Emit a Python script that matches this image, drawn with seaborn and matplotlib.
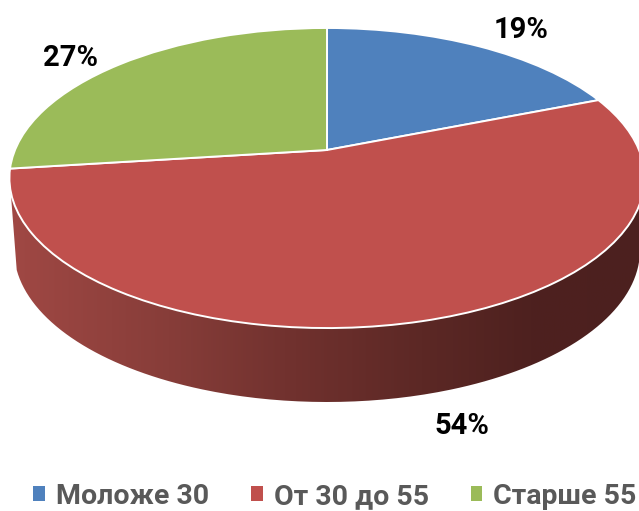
import numpy as np
import matplotlib
matplotlib.use('Agg')
import matplotlib.pyplot as plt
import seaborn as sns
from matplotlib.colors import LinearSegmentedColormap
from matplotlib.patches import PathPatch
from matplotlib.path import Path
from matplotlib.transforms import Transform

categories = ['Моложе 30', 'От 30 до 55', 'Старше 55']
values = [19, 54, 27]
colors = ['#4F81BD', '#C0504D', '#9BBB59']

sns.set_theme(style='white')
plt.rcParams['font.family'] = ['Roboto', 'DejaVu Sans']


# tilts the flat pie circle into the perspective seen in the picture
class Tilt(Transform):
    input_dims = 2
    output_dims = 2

    def transform_non_affine(self, xy):
        xy = np.asarray(xy)
        w = 1 + 0.1867 * xy[:, 1]
        return np.column_stack([327 + 312 * xy[:, 0] / w,
                                (150 - 116.8 * xy[:, 1]) / w])


fig = plt.figure(figsize=(6.39, 5.11), dpi=100)
ax = fig.add_axes([0, 0, 1, 1])

tilt = Tilt()
wedges, _ = ax.pie(values, colors=colors, startangle=90, counterclock=False,
                   wedgeprops={'edgecolor': 'white', 'linewidth': 1.4})
for w in wedges:
    w.set_transform(tilt + ax.transData)
    w.set_zorder(3)

# side wall of the pie, shaded from left to right
t = np.linspace(0, 2 * np.pi, 400)
rim = tilt.transform_non_affine(np.column_stack([np.cos(t), np.sin(t)]))
front = rim[rim[:, 1] >= 190]
front = front[np.argsort(front[:, 0])]
s = np.linspace(np.pi * 0.958, 0, 200)
back = np.column_stack([327 + 313 * np.cos(s), 250 + 152 * np.sin(s)])
wall = np.vstack([front, back[::-1]])
wall_cmap = LinearSegmentedColormap.from_list(
    'wall', [(0, '#A04844'), (0.25, '#873D39'), (0.45, '#70312E'),
             (0.65, '#5C2825'), (0.82, '#4E211F'), (1, '#4C201F')])
img = ax.imshow(np.linspace(0, 1, 256)[None, :], cmap=wall_cmap, aspect='auto',
                extent=[10, 645, 410, 150], zorder=1)
clip = PathPatch(Path(wall), transform=ax.transData, facecolor='none', edgecolor='none')
ax.add_patch(clip)
img.set_clip_path(clip)

ax.set_aspect('auto')
ax.set_xlim(0, 639)
ax.set_ylim(511, 0)
ax.axis('off')

ax.text(521, 30.5, f'{values[0]}%', ha='center', va='center', fontsize=21, fontweight='bold', color='black')
ax.text(462, 426.5, f'{values[1]}%', ha='center', va='center', fontsize=21, fontweight='bold', color='black')
ax.text(71, 58.5, f'{values[2]}%', ha='center', va='center', fontsize=21, fontweight='bold', color='black')

leg = ax.legend(wedges, categories, loc='lower left', bbox_to_anchor=(33 / 639, 0.002), ncol=3,
                frameon=False, handlelength=0.42, handleheight=0.42, handletextpad=0.38,
                columnspacing=1.47, borderpad=0, borderaxespad=0,
                prop={'size': 20.5, 'weight': 'bold'}, labelcolor='#595959')
for h in leg.legend_handles:
    h.set_edgecolor('none')

fig.savefig('out.png', dpi=100)
